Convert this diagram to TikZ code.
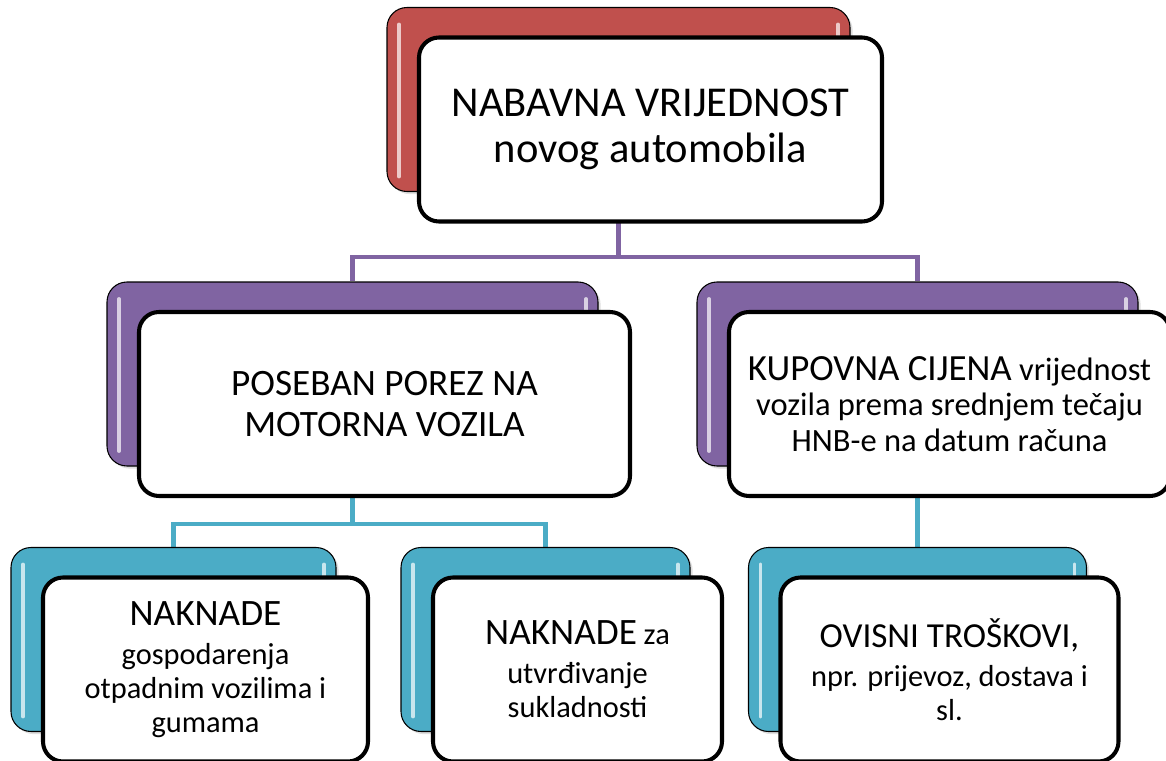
\documentclass[tikz,border=0pt]{standalone}
\usepackage{fontspec}
\setmainfont{Carlito}
\usetikzlibrary{backgrounds,positioning,calc,shadows}
\definecolor{rootred}{HTML}{C0504D}
\definecolor{levelviolet}{HTML}{8064A2}
\definecolor{leafcyan}{HTML}{4BACC6}
\newcommand\capsz{\fontsize{21.2}{23.5}\selectfont}
\newcommand\lowsz{\fontsize{17.3}{19.2}\selectfont}

\begin{document}
\begin{tikzpicture}[glint/.style={path picture={\draw[white,opacity=0.7,line width=2.2pt,line cap=round]
      ([shift={(0.24,-0.34)}]path picture bounding box.north west) -- ([shift={(0.24,0.3)}]path picture bounding box.south west)
      ([shift={(-0.24,-0.34)}]path picture bounding box.north east) -- ([shift={(-0.24,0.3)}]path picture bounding box.south east);}},
  backbox/.style={rectangle,rounded corners=0.4cm,draw=black,line width=0.6pt,minimum height=3.68cm,
      drop shadow={opacity=0.25,shadow xshift=1.5pt,shadow yshift=-1.5pt},glint},
  frontbox/.style={rectangle,rounded corners=0.4cm,draw=black,line width=2.3pt,fill=white,minimum height=3.68cm,align=center,inner sep=2pt},
  link/.style={line width=2.3pt}]
\path[use as bounding box,clip] (0,0) rectangle (23.32,15.2);

% top level
\node(rootback)[backbox,fill=rootred,minimum width=9.26cm] at (12.37,13.21) {};
\node(root)[frontbox,minimum width=9.26cm,font=\fontsize{24.2}{26}\selectfont] at ($(rootback)+(0.64,-0.6)$) {NABAVNA VRIJEDNOST\\novog automobila};

% second level
\node(porezback)[backbox,fill=levelviolet,minimum width=9.82cm] at (7.05,7.72) {};
\node(porez)[frontbox,minimum width=9.82cm,font=\capsz] at ($(porezback)+(0.64,-0.6)$) {POSEBAN POREZ NA\\MOTORNA VOZILA};
\node(cijenaback)[backbox,fill=levelviolet,minimum width=8.82cm] at (18.35,7.72) {};
\node(cijena)[frontbox,minimum width=8.82cm,font=\fontsize{18.5}{20.4}\selectfont] at ($(cijenaback)+(0.64,-0.6)$) {{\fontsize{21}{23}\selectfont KUPOVNA CIJENA} vrijednost\\vozila prema srednjem tečaju\\HNB-e na datum računa};

% third level
\node(otpadback)[backbox,fill=leafcyan,minimum width=6.5cm] at (3.47,2.41) {};
\node(otpad)[frontbox,minimum width=6.5cm,font=\lowsz] at ($(otpadback)+(0.64,-0.6)$) {{\capsz NAKNADE}\\[3pt]gospodarenja\\otpadnim vozilima i\\gumama};
\node(sukladback)[backbox,fill=leafcyan,minimum width=5.78cm] at (10.91,2.41) {};
\node(suklad)[frontbox,minimum width=5.78cm,font=\lowsz] at ($(sukladback)+(0.64,-0.6)$) {{\capsz NAKNADE} za\\[3pt]utvrđivanje\\sukladnosti};
\node(troskback)[backbox,fill=leafcyan,minimum width=6.76cm] at (18.35,2.41) {};
\node(trosk)[frontbox,minimum width=6.76cm,font=\lowsz] at ($(troskback)+(0.64,-0.6)$) {{\fontsize{20}{22}\selectfont OVISNI TROŠKOVI,}\\[3pt]npr. prijevoz, dostava i\\sl.};

\begin{pgfonlayer}{background}
\draw[link,levelviolet] (rootback.south) -- ++(0,-1.3) coordinate (fork1) -| (porezback.north);
\draw[link,levelviolet] (fork1) -| (cijenaback.north);
\draw[link,leafcyan] (porezback.south) -- ++(0,-1.14) coordinate (fork2) -| (otpadback.north);
\draw[link,leafcyan] (fork2) -| (sukladback.north);
\draw[link,leafcyan] (cijenaback.south) -- (troskback.north);
\end{pgfonlayer}
\end{tikzpicture}
\end{document}
